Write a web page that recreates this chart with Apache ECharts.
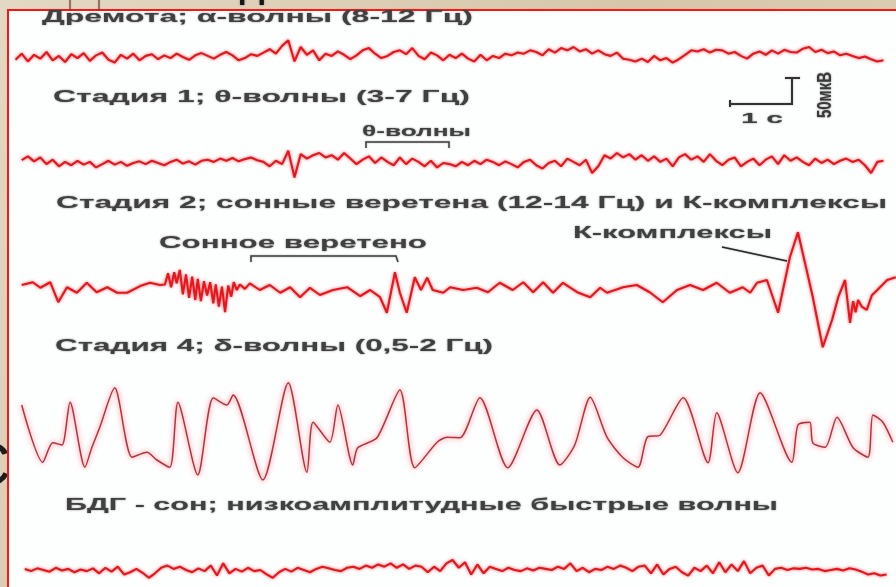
<!DOCTYPE html>
<html><head><meta charset="utf-8">
<script src="https://cdn.jsdelivr.net/npm/echarts@6/dist/echarts.min.js"></script>
<style>html,body{margin:0;padding:0;background:#dccfb6;}#c{width:896px;height:587px;}</style>
</head><body><div id="c"></div>
<script>
// ---------- DATA ----------
// time in seconds, amplitude in µV (positive = up)
const STEP = 0.1;
const alphaStart = 0.25;
const alphaV = [
  -5, 6, -8, 4, -3, 9, -6, 2, -9, 5,
  -2, 7, -7, 3, 8, -5, -10, 4, -3, 6,
  -6, 2, 5, -4, 3, -2, 6, 0, -5, 3,
  7, 2, -3, 4, 9, 3, -6, -2, 5, 2,
  8, 14, 6, 20, 30, -8, 18, 4, 12, -6,
  6, 2, 10, 4, -4, 3, 12, 16, 6, -2,
  2, 9, 12, 5, 16, 2, -4, 8, 3, -6,
  4, -2, 6, -3, -8, 4, -6, 2, -2, 6,
  3, 8, 6, 12, 9, 3, 14, 8, 16, 12,
  18, 10, 14, 6, 12, 5, 2, 8, -3, -5,
  -8, -3, -9, 2, -6, -2, -10, -4, 4, 12,
  10, 14, 8, 13, 12, 6, 9, 2, -3, 6,
  10, 4, 12, 6, 13, 9, 8, 15, 18, 9,
  13, 7, 10, 3, 6, 2, -2, 1, -4, -8,
  -6
];
const thetaStart = 0.35;
const thetaV = [
  5, 12, 3, 10, -2, 6, -6, 2, -4, 4,
  -3, 2, -8, -2, 4, -3, 2, -5, 0, 3,
  -2, 4, 0, -4, 2, 6, -1, 3, -3, 4,
  6, 2, 8, 4, 9, 3, 7, 10, 5, 2,
  -6, 4, -2, 22, -26, 16, 8, 14, 18, 10,
  14, 6, 18, 8, -2, 6, 12, 0, 10, 2,
  -4, 10, -2, 8, 2, -6, 4, -8, 0, -2,
  -6, 2, -4, 4, -2, 6, 2, -4, 3, -2,
  -8, 2, 6, -4, -10, 0, 4, -6, 8, 2,
  -4, 6, -18, -6, 14, 8, 18, 10, 16, 6,
  14, 4, 12, 2, 8, -6, 10, 16, 6, 12,
  2, 16, 4, -4, 6, 10, -6, 2, 8, -4,
  6, 12, -2, 14, 4, 10, 2, -4, 8, 0,
  6, -2, 4, 8, 2, 6, -4, -18, 2, 4
];
const stage2 = [
  [0.35,9],[0.53,14],[0.65,4],[0.81,14],[0.94,-22],[1.08,5],[1.24,-5],[1.40,13],[1.56,-4],[1.73,5],
  [1.89,-5],[2.05,-5],[2.26,7],[2.42,13],[2.58,9],[2.66,10],[2.71,30],[2.76,5],[2.81,32],[2.85,12],
  [2.90,36],[2.95,-8],[3.00,28],[3.05,-14],[3.10,24],[3.15,-18],[3.19,20],[3.24,-20],[3.29,16],[3.34,-10],
  [3.39,14],[3.44,-24],[3.48,10],[3.53,-30],[3.58,6],[3.63,-40],[3.68,8],[3.73,-12],[3.77,14],[3.82,0],
  [3.87,10],[3.95,2],[4.03,12],[4.19,0],[4.35,9],[4.52,-5],[4.68,5],[4.84,-13],[5.00,4],[5.16,-9],
  [5.37,0],[5.60,5],[5.81,-11],[5.97,0],[6.13,-13],[6.24,-41],[6.37,32],[6.45,-5],[6.56,-41],[6.69,23],
  [6.79,0],[6.89,22],[6.98,0],[7.15,-5],[7.26,5],[7.47,0],[7.69,4],[7.87,-4],[8.06,13],[8.27,0],
  [8.44,14],[8.60,-4],[8.76,14],[8.92,-5],[9.08,13],[9.31,-4],[9.52,-13],[9.68,4],[9.79,-5],[10.05,5],
  [10.27,9],[10.48,-4],[10.69,-22],[10.92,0],[11.13,9],[11.34,0],[11.56,13],[11.77,-5],[11.98,5],[12.10,-5],
  [12.21,13],[12.37,18],[12.55,-41],[12.74,59],[12.87,104],[13.02,31],[13.11,-13],[13.27,-103],[13.42,-54],[13.52,-13],
  [13.63,18],[13.71,-59],[13.76,-20],[13.80,-40],[13.84,-18],[13.90,-30],[13.98,-36],[14.06,-10],[14.15,0],[14.31,18],[14.45,23]
];
const delta = [
  [0.35,54],[0.69,-49],[0.85,-14],[1.00,-18],[1.13,59],[1.37,-58],[1.48,-23],[1.61,14],[1.85,85],[2.13,-40],
  [2.37,-31],[2.53,-45],[2.74,-58],[2.87,59],[3.19,-72],[3.44,67],[3.66,54],[3.76,72],[4.24,-81],[4.65,94],
  [4.95,-67],[5.05,23],[5.32,-13],[5.45,54],[5.69,-54],[5.77,-23],[6.08,-5],[6.45,81],[6.69,-59],[7.05,-13],
  [7.21,-4],[7.42,-5],[7.74,67],[8.19,-59],[8.66,45],[9.03,-54],[9.27,-18],[9.52,68],[9.79,-4],[10.05,-41],
  [10.29,-58],[10.44,-4],[10.65,0],[11.02,67],[11.42,-50],[11.56,40],[11.90,-68],[12.26,76],[12.77,-49],[12.87,18],
  [13.06,23],[13.11,-14],[13.31,-22],[13.50,32],[13.76,-23],[14.00,-40],[14.08,36],[14.24,23],[14.40,-13]
];
const remStart = 0.4;
const remV = [
  2, -2, 3, 0, -3, 4, -1, 2, -4, 1,
  -2, 3, -6, 4, -3, 6, -8, -4, 2, -5,
  -14, -6, 4, 8, 2, 6, 0, -4, 3, -2,
  8, -10, 12, -6, 2, -3, 4, -2, 0, -8,
  -14, -4, 2, -3, 4, 0, -4, 2, 6, 3,
  0, -2, 4, 6, 2, 8, 4, 10, 6, 12,
  4, 10, 2, 8, 6, -4, 6, -2, 12, 18,
  4, 14, -8, 10, -6, 6, 2, -2, 4, 0,
  -2, 3, -1, 4, 2, 0, 6, 2, 12, -2,
  4, -4, 2, 0, 6, 2, 8, 4, -2, 6,
  8, -6, 10, -8, 2, 6, -4, -10, 4, -2,
  8, -6, 14, -4, 10, -2, 16, -6, 4, 8,
  -10, 2, 4, 0, 3, 2, 4, 1, 2, -2,
  0, 2, -1, 3, 1, -3, -8, -6, -10, -8
];
const titles = [
  'Дремота; α-волны (8-12 Гц)',
  'Стадия 1; θ-волны (3-7 Гц)',
  'Стадия 2; сонные веретена (12-14 Гц) и К-комплексы',
  'Стадия 4; δ-волны (0,5-2 Гц)',
  'БДГ - сон; низкоамплитудные быстрые волны'
];
const notes = ['θ-волны', 'Сонное веретено', 'К-комплексы'];
const scaleLabels = ['1 с', '50мкВ'];

// ---------- BUILD ----------
const uniform = (start, vals) => vals.map((v, i) => [+(start + i * STEP).toFixed(2), v]);
const traces = [
  { data: uniform(alphaStart, alphaV), top: 7, height: 100, r: 90 },
  { data: uniform(thetaStart, thetaV), top: 113, height: 100, r: 90 },
  { data: stage2, top: 220, height: 140, r: 126 },
  { data: delta, top: 375, height: 120, r: 108 },
  { data: uniform(remStart, remV), top: 553, height: 34, r: 30.6 }
];
const XMAX = 896 / 62;

const grid = [], xAxis = [], yAxis = [], series = [];
traces.forEach((t, i) => {
  grid.push({ left: 0, right: 0, top: t.top, height: t.height });
  xAxis.push({ type: 'value', gridIndex: i, min: 0, max: XMAX, show: false });
  yAxis.push({ type: 'value', gridIndex: i, min: -t.r, max: t.r, show: false });
  const isDelta = i === 3;
  series.push({
    type: 'line', xAxisIndex: i, yAxisIndex: i, data: t.data,
    showSymbol: false, smooth: isDelta ? 0.25 : false, clip: false, animation: false,
    lineStyle: isDelta
      ? { color: '#b8323e', width: 1.5, shadowBlur: 5, shadowColor: 'rgba(255,100,110,0.95)' }
      : { color: '#e5161e', width: 2.1, shadowBlur: 3, shadowColor: 'rgba(255,40,40,0.75)' }
  });
});

const mctx = document.createElement('canvas').getContext('2d');
const FONT = (s, w) => `${w || 'bold'} ${s}px "Liberation Sans", Arial, sans-serif`;
function label(text, left, right, cy, size, z) {
  const font = FONT(size);
  mctx.font = font;
  const w = mctx.measureText(text).width;
  return { type: 'text', x: left, y: cy, scaleX: (right - left) / w, z: z || 5,
    style: { text, font, fill: '#404040', align: 'left', verticalAlign: 'middle',
      textShadowBlur: 2, textShadowColor: 'rgba(70,70,70,0.7)' } };
}
const line = (pts, z, color, w) => ({ type: 'polyline', z: z || 5, shape: { points: pts },
  style: { stroke: color || '#454545', lineWidth: w || 1.5, fill: null, shadowBlur: 1.5, shadowColor: 'rgba(60,60,60,0.6)' } });

const graphic = [
  // background slide elements (behind panel)
  (() => { const g = label('СТАДИИ СНА ПО ЭЭГ', 170, 540, -14, 40, 0); g.style.fill = '#151515'; return g; })(),
  { type: 'text', x: -34, y: 468, z: 0, style: { text: 'С', font: FONT(62, 'normal'), fill: '#1c1c1c', verticalAlign: 'middle' } },
  line([[70, 0], [70, 10]], 0, '#7a3020', 1),
  line([[99, 0], [99, 10]], 0, '#7a3020', 1),
  // panel
  { type: 'rect', z: 1, shape: { x: 8, y: 10, width: 900, height: 600 },
    style: { fill: '#fdfefe', stroke: '#ff1414', lineWidth: 2 } },
  // titles
  label(titles[0], 42, 473, 18, 16),
  label(titles[1], 53, 470, 98, 16),
  label(titles[2], 56, 887, 204, 16),
  label(titles[3], 55, 493, 347, 16),
  label(titles[4], 65, 778, 506, 16),
  // annotations
  label(notes[0], 362, 471, 132, 15),
  line([[366, 148], [366, 142], [449, 142], [449, 148]]),
  label(notes[1], 159, 427, 244, 16),
  line([[251, 262], [251, 256], [396, 256], [398, 262]]),
  label(notes[2], 573, 772, 234, 16),
  line([[722, 247], [787, 261]], 5, '#2a2a2a', 1.5),
  // scale bar
  line([[730, 104], [792, 104], [792, 78]], 5, '#333', 2),
  line([[785, 78], [800, 78]], 5, '#333', 2),
  line([[730, 100], [730, 107]], 5, '#333', 2),
  label(scaleLabels[0], 741, 783, 119, 15),
  { type: 'text', x: 825, y: 95, rotation: Math.PI / 2, scaleY: 1.35, z: 5,
    style: { text: scaleLabels[1], font: FONT(15), fill: '#3a3a3a', align: 'center', verticalAlign: 'middle',
      textShadowBlur: 2, textShadowColor: 'rgba(70,70,70,0.7)' } }
];

const chart = echarts.init(document.getElementById('c'), null, { renderer: 'canvas' });
chart.setOption({
  animation: false,
  backgroundColor: new echarts.graphic.LinearGradient(0, 0, 1, 1, [
    { offset: 0, color: '#e3d8c3' }, { offset: 0.5, color: '#d6c7aa' }, { offset: 1, color: '#e0d3bb' }
  ]),
  grid, xAxis, yAxis, series, graphic
});
</script></body></html>
